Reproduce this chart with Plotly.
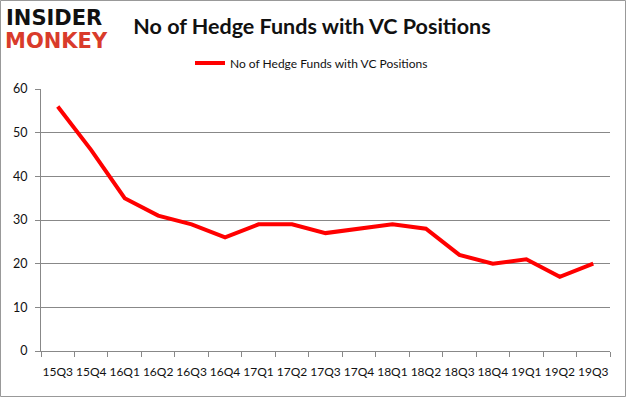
import plotly.graph_objects as go

quarters = ["15Q3", "15Q4", "16Q1", "16Q2", "16Q3", "16Q4", "17Q1", "17Q2", "17Q3",
            "17Q4", "18Q1", "18Q2", "18Q3", "18Q4", "19Q1", "19Q2", "19Q3"]
funds = [56, 46, 35, 31, 29, 26, 29, 29, 27, 28, 29, 28, 22, 20, 21, 17, 20]
y_ticks = [0, 10, 20, 30, 40, 50, 60]
series_name = "No of Hedge Funds with VC Positions"

W, H = 626, 397
L, R, T, B = 41, 610, 89, 351
PW, PH = R - L, B - T


def px(x):
    return (x - L) / PW


def py(y):
    return (B - y) / PH


fig = go.Figure()
fig.add_trace(go.Scatter(
    x=quarters, y=funds, mode="lines", name=series_name,
    line=dict(color="#ff0000", width=4),
))

grid = "#888888"
base_font = "Lato, Carlito, Calibri, sans-serif"
fig.update_layout(
    width=W, height=H,
    margin=dict(l=L, r=W - R, t=T, b=H - B, autoexpand=False),
    paper_bgcolor="white", plot_bgcolor="white",
    font=dict(family=base_font, size=12, color="#111"),
    title=dict(text="<b>No of Hedge Funds with VC Positions</b>", x=312 / W, xanchor="center",
               xref="container", y=1 - 26 / H, yref="container", yanchor="middle",
               font=dict(size=21.5, color="#111", family=base_font)),
    showlegend=True,
    legend=dict(orientation="h", x=px(190), xanchor="left", y=py(63), yanchor="middle",
                font=dict(size=12, color="#111", family=base_font), bgcolor="rgba(0,0,0,0)",
                itemwidth=30),
    xaxis=dict(type="category", range=[-0.5, len(quarters) - 0.5], showline=True,
               linecolor=grid, linewidth=1, tickangle=0,
               ticks="outside", tickson="boundaries", ticklen=5, tickcolor=grid,
               ticklabelstandoff=10,
               showgrid=False, tickfont=dict(size=12, color="#111")),
    yaxis=dict(range=[0, 60], tickvals=y_ticks, showline=True, linecolor=grid, linewidth=1,
               ticks="outside", ticklen=5, tickcolor=grid, showgrid=True, gridcolor=grid,
               ticklabelstandoff=5,
               gridwidth=1, zeroline=False, tickfont=dict(size=12.5, color="#111")),
    shapes=[dict(type="rect", xref="paper", yref="paper", x0=px(0.5), x1=px(W - 0.5),
                 y0=py(H - 0.5), y1=py(0.5), line=dict(color="#999", width=1))],
    annotations=[
        dict(text="<b>INSIDER</b>", xref="paper", yref="paper", x=px(4), y=py(17.5),
             xanchor="left", yanchor="middle", showarrow=False,
             font=dict(size=21, color="#111", family="DejaVu Sans, sans-serif")),
        dict(text="<b>MONKEY</b>", xref="paper", yref="paper", x=px(3), y=py(41),
             xanchor="left", yanchor="middle", showarrow=False,
             font=dict(size=21, color="#d93b2b", family="DejaVu Sans, sans-serif")),
    ],
)

fig.write_html("out.html", config={"displayModeBar": False},
               post_script="document.body.style.margin='0';document.body.style.overflow='hidden';")
